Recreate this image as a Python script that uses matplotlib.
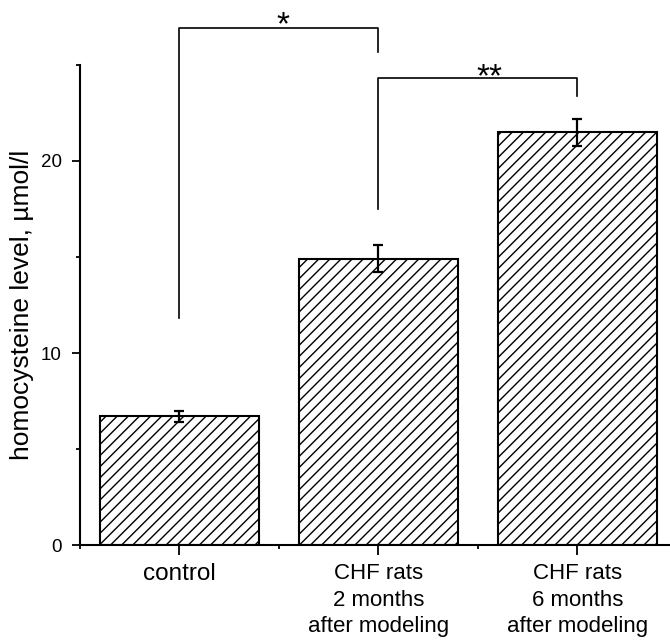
import matplotlib.pyplot as plt
from matplotlib.ticker import MultipleLocator

plt.rcParams['font.family'] = ['Liberation Sans', 'DejaVu Sans']
plt.rcParams['hatch.linewidth'] = 1.0

# data
groups = ['control', 'CHF rats\n2 months\nafter modeling', 'CHF rats\n6 months\nafter modeling']
means = [6.7, 14.9, 21.5]
errors = [0.3, 0.7, 0.7]

fig = plt.figure(figsize=(6.7, 6.42), dpi=100)
ax = fig.add_axes([0.1194, 0.151, 0.8806, 0.7478])

x = [1, 2, 3]
ax.bar(x, means, width=0.8, color='white', edgecolor='black', linewidth=1.5,
       hatch='///', zorder=2)
ax.errorbar(x, means, yerr=errors, fmt='none', ecolor='black', elinewidth=1.6,
            capsize=3.5, capthick=1.6, zorder=3)

ax.set_xlim(0.5, 3.465)
ax.set_ylim(0, 25)
ax.set_xticks(x)
ax.set_xticklabels(groups, fontsize=16, linespacing=1.35)
ax.xaxis.set_minor_locator(MultipleLocator(1, offset=0.5))
ax.yaxis.set_major_locator(MultipleLocator(10))
ax.yaxis.set_minor_locator(MultipleLocator(5))
ax.tick_params(axis='y', which='major', length=6, width=1.3, labelsize=13.5, pad=7)
ax.tick_params(axis='y', which='minor', length=3, width=1.3)
ax.tick_params(axis='x', which='major', length=7, width=1.3, pad=6)
ax.tick_params(axis='x', which='minor', length=3, width=1.3)
ax.get_xticklabels()[0].set_fontsize(17.5)

for side in ['top', 'right']:
    ax.spines[side].set_visible(False)
for side in ['left', 'bottom']:
    ax.spines[side].set_linewidth(1.5)

ax.set_ylabel('homocysteine level, µmol/l', fontsize=19, labelpad=5)

# significance brackets
kw = dict(color='black', linewidth=1.2, clip_on=False)
ax.plot([1, 1, 2, 2], [11.8, 26.9, 26.9, 25.7], **kw)
ax.text(1.518, 26.6, '*', ha='center', va='baseline', fontsize=24)
ax.plot([2, 2, 3, 3], [17.5, 24.3, 24.3, 23.4], **kw)
ax.text(2.558, 23.9, '**', ha='center', va='baseline', fontsize=24)

fig.savefig('out.png', dpi=100)
